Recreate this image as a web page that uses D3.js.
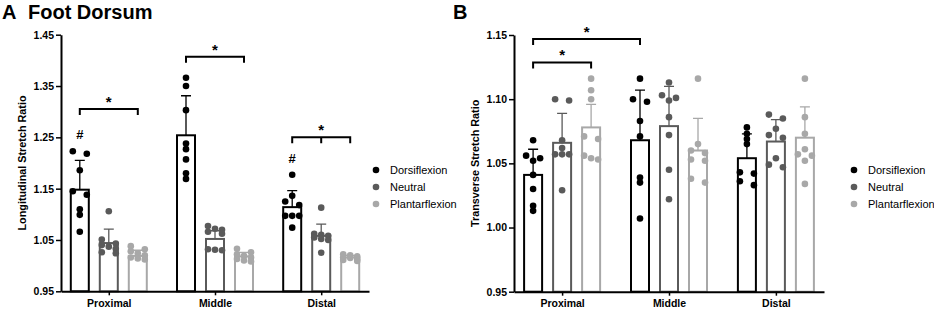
<!DOCTYPE html>
<html lang="en">
	<head>
		<meta charset="utf-8">
		<title>Foot Dorsum stretch ratios</title>
		<script type="text/javascript" src="https://cdn.jsdelivr.net/npm/d3@7"></script>
		<style type="text/css">
			body { margin: 0; background: white; }
			text { font-family: "Liberation Sans", Arial, sans-serif; fill: black; }
			.axis text { font-size: 10.5px; font-weight: bold; }
			.axis path, .axis line { stroke: black; }
		</style>
	</head>
	<body>
		<script type="text/javascript">
			var w = 934;
			var h = 311;

			var categories = ["Proximal", "Middle", "Distal"];
			var series = ["Dorsiflexion", "Neutral", "Plantarflexion"];
			var colors = ["#000000", "#5a5a5a", "#a8a8a8"];

			// panel A - longitudinal (mean, SD, individual points per category)
			var longTicks = [0.95, 1.05, 1.15, 1.25, 1.35, 1.45];
			var longDorsiMean = [1.148, 1.254, 1.114];
			var longDorsiSD = [0.057, 0.077, 0.032];
			var longNeutralMean = [1.044, 1.052, 1.058];
			var longNeutralSD = [0.027, 0.016, 0.023];
			var longPlantarMean = [1.019, 1.018, 1.016];
			var longPlantarSD = [0.011, 0.008, 0.004];
			var longDorsiPts = [
				[1.223, 1.218, 1.186, 1.145, 1.138, 1.110, 1.099, 1.066],
				[1.366, 1.350, 1.303, 1.238, 1.227, 1.207, 1.180, 1.169],
				[1.177, 1.136, 1.125, 1.118, 1.097, 1.097, 1.097, 1.074]
			];
			var longNeutralPts = [
				[1.106, 1.051, 1.043, 1.040, 1.037, 1.033, 1.026, 1.024],
				[1.077, 1.072, 1.070, 1.066, 1.062, 1.032, 1.031, 1.030],
				[1.113, 1.062, 1.060, 1.058, 1.055, 1.052, 1.050, 1.025]
			];
			var longPlantarPts = [
				[1.038, 1.032, 1.028, 1.024, 1.020, 1.016, 1.014, 1.012],
				[1.033, 1.026, 1.022, 1.019, 1.016, 1.013, 1.010, 1.008],
				[1.022, 1.020, 1.018, 1.016, 1.015, 1.013, 1.011, 1.009]
			];
			// brackets: category, from series, to series, level, mid tick
			var longBrackets = [
				{ cat: 0, from: 0, to: 2, level: 1.305, mid: false },
				{ cat: 1, from: 0, to: 2, level: 1.407, mid: false },
				{ cat: 2, from: 0, to: 2, level: 1.250, mid: true }
			];
			var longHash = [0, 2]; // categories with # over dorsiflexion

			// panel B - transverse
			var transTicks = [0.95, 1.00, 1.05, 1.10, 1.15];
			var transDorsiMean = [1.041, 1.068, 1.054];
			var transDorsiSD = [0.020, 0.039, 0.019];
			var transNeutralMean = [1.066, 1.079, 1.067];
			var transNeutralSD = [0.023, 0.031, 0.017];
			var transPlantarMean = [1.078, 1.060, 1.070];
			var transPlantarSD = [0.018, 0.025, 0.024];
			var transDorsiPts = [
				[1.068, 1.056, 1.054, 1.052, 1.041, 1.030, 1.017, 1.013],
				[1.116, 1.100, 1.098, 1.083, 1.071, 1.039, 1.035, 1.007],
				[1.078, 1.073, 1.069, 1.065, 1.043, 1.042, 1.036, 1.033]
			];
			var transNeutralPts = [
				[1.100, 1.099, 1.068, 1.062, 1.057, 1.057, 1.057, 1.029],
				[1.113, 1.103, 1.101, 1.099, 1.086, 1.072, 1.045, 1.022],
				[1.088, 1.085, 1.077, 1.072, 1.070, 1.054, 1.049, 1.047]
			];
			var transPlantarPts = [
				[1.116, 1.107, 1.100, 1.071, 1.069, 1.056, 1.054, 1.053],
				[1.116, 1.065, 1.060, 1.058, 1.053, 1.052, 1.038, 1.035],
				[1.116, 1.086, 1.073, 1.061, 1.057, 1.056, 1.052, 1.034]
			];
			// brackets span categories here: from [cat, series] to [cat, series]
			var transBrackets = [
				{ a: [0, 0], b: [1, 0], level: 1.1468 },
				{ a: [0, 0], b: [0, 2], level: 1.1286 }
			];

			var svg = d3.select("body")
						.append("svg")
						.attr("width", w)
						.attr("height", h);

			// rows of near-equal values get spread sideways, like prism scatter
			function swarm(vals, y) {
				var sorted = vals.slice().sort(function(a, b) { return b - a; });
				var rows = [];
				sorted.forEach(function(v) {
					var row = rows[rows.length - 1];
					if (row && row.length < 3 && Math.abs(y(row[0]) - y(v)) < 5) row.push(v);
					else rows.push([v]);
				});
				var offs = { 1: [0], 2: [-7, 7], 3: [-7, 0, 7] };
				var out = [];
				rows.forEach(function(r) {
					r.forEach(function(v, i) { out.push({ v: v, dx: offs[r.length][i] }); });
				});
				return out;
			}

			function panel(cfg) {
				var g = svg.append("g");

				var y = d3.scaleLinear().domain(cfg.domain).range([cfg.yBottom, cfg.yTop]);
				var x = d3.scalePoint().domain(categories).range([cfg.x0, cfg.x1]).padding(0.45);
				var sx = d3.scalePoint().domain(d3.range(series.length)).range([-29, 29]);
				var barW = 18;

				function bx(c, s) { return x(categories[c]) + sx(s); }

				// bars + error bars + points
				series.forEach(function(name, s) {
					var sg = g.append("g");
					var col = colors[s];

					sg.selectAll("rect")
						.data(cfg.means[s])
						.enter()
						.append("rect")
						.attr("x", function(d, i) { return bx(i, s) - barW / 2; })
						.attr("y", function(d) { return y(d); })
						.attr("width", barW)
						.attr("height", function(d) { return y(cfg.domain[0]) - y(d); })
						.attr("fill", "white")
						.attr("stroke", col)
						.attr("stroke-width", 2);

					sg.selectAll("path.err")
						.data(cfg.means[s])
						.enter()
						.append("path")
						.attr("d", function(d, i) {
							var cx = bx(i, s), top = y(d + cfg.sds[s][i]);
							return "M" + cx + "," + y(d) + "V" + top + "M" + (cx - 5) + "," + top + "H" + (cx + 5);
						})
						.attr("fill", "none")
						.attr("stroke", col)
						.attr("stroke-width", 1.3);

					cfg.points[s].forEach(function(vals, c) {
						sg.selectAll(null)
							.data(swarm(vals, y))
							.enter()
							.append("circle")
							.attr("cx", function(d) { return bx(c, s) + d.dx; })
							.attr("cy", function(d) { return y(d.v); })
							.attr("r", 3.3)
							.attr("fill", col);
					});
				});

				// axes
				var yAxis = d3.axisLeft(y)
					.tickValues(cfg.ticks)
					.tickFormat(d3.format(".2f"))
					.tickSize(5)
					.tickSizeOuter(0)
					.tickPadding(2);
				var ya = g.append("g")
					.attr("class", "axis")
					.attr("transform", "translate(" + cfg.x0 + ",0)")
					.call(yAxis);
				ya.select(".domain").attr("stroke-width", 2);
				ya.selectAll(".tick line").attr("stroke-width", 1.5);

				var xAxis = d3.axisBottom(x).tickSize(4).tickSizeOuter(0).tickPadding(4);
				var xa = g.append("g")
					.attr("class", "axis")
					.attr("transform", "translate(0," + cfg.yBottom + ")")
					.call(xAxis);
				xa.select(".domain").attr("stroke-width", 2);
				xa.selectAll(".tick line").attr("stroke-width", 1.5);

				// axis title
				g.append("text")
					.attr("transform", "translate(" + (cfg.x0 - 35) + "," + ((cfg.yTop + cfg.yBottom) / 2) + ") rotate(-90)")
					.attr("text-anchor", "middle")
					.style("font-size", "10.8px")
					.style("font-weight", "bold")
					.text(cfg.yLabel);

				// significance brackets
				cfg.brackets.forEach(function(b) {
					var xa1 = b.a ? bx(b.a[0], b.a[1]) : bx(b.cat, b.from);
					var xb1 = b.b ? bx(b.b[0], b.b[1]) : bx(b.cat, b.to);
					var ly = y(b.level);
					var d = "M" + xa1 + "," + (ly + 6) + "V" + ly + "H" + xb1 + "V" + (ly + 6);
					if (b.mid) d += "M" + bx(b.cat, 1) + "," + ly + "V" + (ly + 6);
					g.append("path")
						.attr("d", d)
						.attr("fill", "none")
						.attr("stroke", "black")
						.attr("stroke-width", 2);
					g.append("text")
						.attr("x", (xa1 + xb1) / 2)
						.attr("y", ly - 2)
						.attr("text-anchor", "middle")
						.style("font-size", "15px")
						.style("font-weight", "bold")
						.text("*");
				});

				(cfg.hash || []).forEach(function(c) {
					g.append("text")
						.attr("x", bx(c, 0))
						.attr("y", y(d3.max(cfg.points[0][c])) - 12)
						.attr("text-anchor", "middle")
						.style("font-size", "13px")
						.style("font-weight", "bold")
						.text("#");
				});

				// legend
				var lg = g.selectAll("g.leg")
					.data(series)
					.enter()
					.append("g")
					.attr("transform", function(d, i) { return "translate(" + cfg.legendX + "," + (170 + i * 17) + ")"; });
				lg.append("circle")
					.attr("r", 3.3)
					.attr("fill", function(d, i) { return colors[i]; });
				lg.append("text")
					.attr("x", 14)
					.attr("dy", "0.35em")
					.style("font-size", "11px")
					.text(function(d) { return d; });

				// panel letter + title
				g.append("text")
					.attr("x", cfg.letterX)
					.attr("y", 19)
					.style("font-size", "20px")
					.style("font-weight", "bold")
					.text(cfg.letter);
				if (cfg.title) {
					g.append("text")
						.attr("x", cfg.letterX + 26)
						.attr("y", 19)
						.style("font-size", "20px")
						.style("font-weight", "bold")
						.text(cfg.title);
				}
			}

			panel({
				letter: "A", letterX: 2, title: "Foot Dorsum",
				x0: 61, x1: 369, yTop: 34.7, yBottom: 291.3,
				domain: [0.95, 1.45], ticks: longTicks,
				yLabel: "Longitudinal Stretch Ratio",
				means: [longDorsiMean, longNeutralMean, longPlantarMean],
				sds: [longDorsiSD, longNeutralSD, longPlantarSD],
				points: [longDorsiPts, longNeutralPts, longPlantarPts],
				brackets: longBrackets, hash: longHash,
				legendX: 376
			});

			panel({
				letter: "B", letterX: 453,
				x0: 514, x1: 824, yTop: 35, yBottom: 291.7,
				domain: [0.95, 1.15], ticks: transTicks,
				yLabel: "Transverse Stretch Ratio",
				means: [transDorsiMean, transNeutralMean, transPlantarMean],
				sds: [transDorsiSD, transNeutralSD, transPlantarSD],
				points: [transDorsiPts, transNeutralPts, transPlantarPts],
				brackets: transBrackets,
				legendX: 854
			});
		</script>
	</body>
</html>
